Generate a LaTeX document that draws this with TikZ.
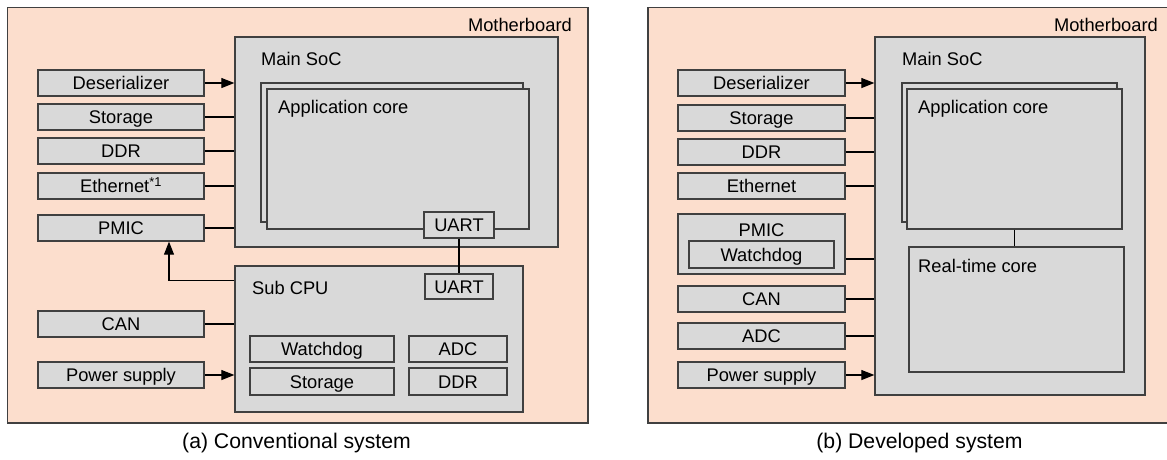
\documentclass[tikz,border=0pt]{standalone}
\usepackage{fontspec}
\setmainfont{Liberation Sans}
\usetikzlibrary{arrows.meta,calc}
\definecolor{board}{HTML}{FCDECD}
\definecolor{chip}{HTML}{D9D9D9}
\definecolor{edge}{HTML}{404040}
\begin{document}
\begin{tikzpicture}[x=1pt,y=-1pt,
  font=\fontsize{18.3}{22}\selectfont,
  wh/.style 2 args={minimum width=#1pt, minimum height=#2pt},
  boardbox/.style={draw=edge, fill=board, line width=1.3pt, inner sep=0pt},
  blk/.style={draw=edge, fill=chip, line width=1.3pt, inner sep=0pt,
              text height=13.1pt, text depth=0pt},
  lbl/.style={inner sep=0pt},
  wire/.style={draw=black, line width=1.1pt},
  arr/.style={wire, -{Triangle[length=13pt,width=10pt]}},
]
\useasboundingbox (0,0) rectangle (1167,459);

% ---------------- (a) Conventional system ----------------
\node[boardbox, wh={580.5}{415.5}] (mbA) at (297.75,215.25) {};
\node[lbl, anchor=base east] (mbAlbl) at (572,31) {Motherboard};

% Main SoC with the application cores
\node[blk, wh={323}{210}] (socA) at (396.5,142) {};
\node[lbl, anchor=base west] (socAlbl) at (261,65) {Main SoC};
\node[blk, wh={262}{139}] (appbackA) at (392,152.5) {};
\node[blk, wh={262}{140}] (appA) at (398,159) {};
\node[lbl, anchor=base west] (appAlbl) at (278,113) {Application core};
\node[blk, wh={70}{26}] (uartA) at (459,225) {UART};

% Sub CPU
\node[blk, wh={288}{146}] (subA) at (379,339) {};
\node[lbl, anchor=base west] (subAlbl) at (252,294) {Sub CPU};
\node[blk, wh={68}{25}] (uartB) at (459,286.5) {UART};
\node[blk, wh={144}{26}] (wdA) at (322,349) {Watchdog};
\node[blk, wh={144}{27}] (stA2) at (322,381.5) {Storage};
\node[blk, wh={98}{26}] (adcA) at (458,349) {ADC};
\node[blk, wh={98}{27}] (ddrA2) at (458,381.5) {DDR};

% Peripherals
\node[blk, wh={166}{26}] (desA) at (121,83) {Deserializer};
\node[blk, wh={166}{26}] (stoA) at (121,117) {Storage};
\node[blk, wh={166}{26}] (ddrA) at (121,151) {DDR};
\node[blk, wh={166}{26}] (ethA) at (121,186) {Ethernet\textsuperscript{*1}};
\node[blk, wh={166}{26}] (pmicA) at (121,228) {PMIC};
\node[blk, wh={166}{26}] (canA) at (121,324) {CAN};
\node[blk, wh={166}{26}] (pwrA) at (121,375) {Power supply};

% Connections
\draw[arr] (desA) -- (desA -| socA.west);
\draw[wire] (stoA) -- (stoA -| socA.west);
\draw[wire] (ddrA) -- (ddrA -| socA.west);
\draw[wire] (ethA) -- (ethA -| socA.west);
\draw[wire] (pmicA) -- (pmicA -| socA.west);
\draw[wire] (canA) -- (canA -| subA.west);
\draw[arr] (pwrA) -- (pwrA -| subA.west);
\draw[wire] (uartA) -- (uartB);
\coordinate (tapA) at ($(subA.north west)+(0,15)$);
\draw[arr] (tapA) -| ($(pmicA.south)+(48,0)$);

\node[lbl, font=\fontsize{21.2}{25}\selectfont, anchor=base] (capA) at (296.5,448) {(a) Conventional system};

% ---------------- (b) Developed system ----------------
\node[boardbox, wh={522}{415.5}] (mbB) at (909,215.25) {};
\node[lbl, anchor=base east] (mbBlbl) at (1158,31) {Motherboard};

% Main SoC with application and real-time cores
\node[blk, wh={270}{358}] (socB) at (1010,216) {};
\node[lbl, anchor=base west] (socBlbl) at (902,65) {Main SoC};
\node[blk, wh={215}{139}] (appbackB) at (1009.5,152.5) {};
\node[blk, wh={215}{140}] (appB) at (1014.5,159) {};
\node[lbl, anchor=base west] (appBlbl) at (918,113) {Application core};
\node[blk, wh={215}{125}] (rtB) at (1016.5,309.5) {};
\node[lbl, anchor=base west] (rtBlbl) at (918,272) {Real-time core};
\draw[wire] (appB.south) -- (appB.south |- rtB.north);

% Peripherals
\node[blk, wh={167}{26}] (desB) at (761.5,83) {Deserializer};
\node[blk, wh={167}{26}] (stoB) at (761.5,118) {Storage};
\node[blk, wh={167}{26}] (ddrB) at (761.5,152) {DDR};
\node[blk, wh={167}{26}] (ethB) at (761.5,186) {Ethernet};
\node[blk, wh={167}{60}] (pmicB) at (761.5,244) {};
\node[lbl, anchor=base] (pmicBlbl) at (761.5,236) {PMIC};
\node[blk, wh={145}{27}] (wdB) at (761.5,254.5) {Watchdog};
\node[blk, wh={167}{26}] (canB) at (761.5,299) {CAN};
\node[blk, wh={167}{26}] (adcB) at (761.5,336) {ADC};
\node[blk, wh={167}{26}] (pwrB) at (761.5,375) {Power supply};

% Connections
\draw[arr] (desB) -- (desB -| socB.west);
\draw[wire] (stoB) -- (stoB -| socB.west);
\draw[wire] (ddrB) -- (ddrB -| socB.west);
\draw[wire] (ethB) -- (ethB -| socB.west);
\coordinate (tapB) at ($(pmicB.east)+(0,15)$);
\draw[wire] (tapB) -- (tapB -| socB.west);
\draw[wire] (canB) -- (canB -| socB.west);
\draw[wire] (adcB) -- (adcB -| socB.west);
\draw[arr] (pwrB) -- (pwrB -| socB.west);

\node[lbl, font=\fontsize{21.2}{25}\selectfont, anchor=base] (capB) at (919.5,448) {(b) Developed system};
\end{tikzpicture}
\end{document}
